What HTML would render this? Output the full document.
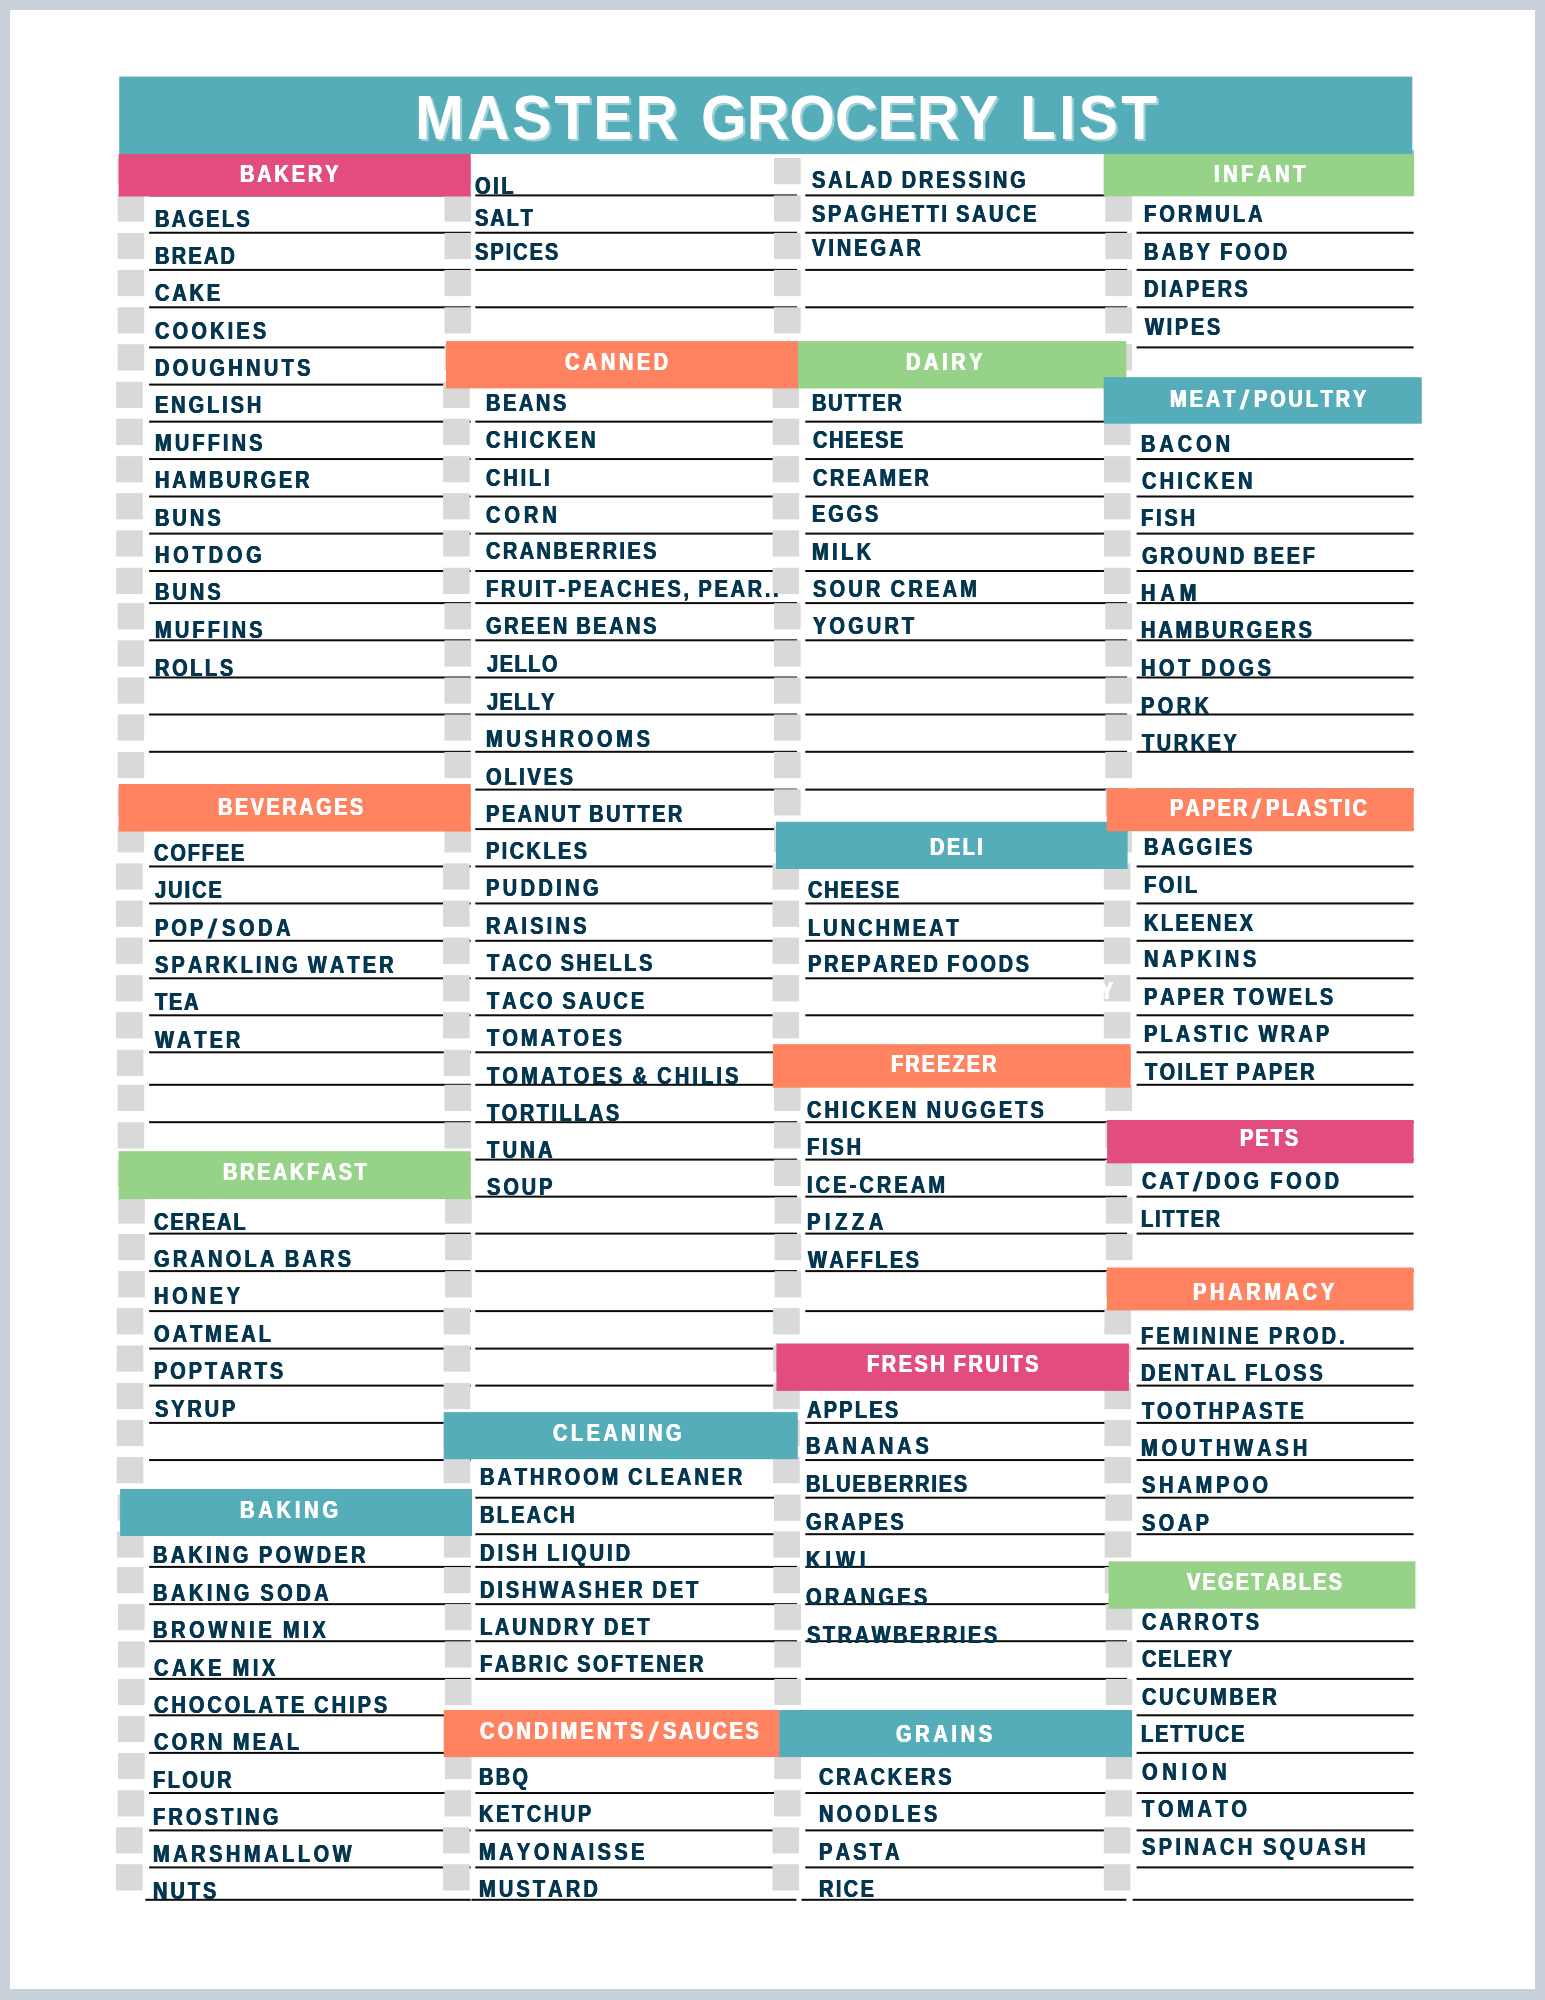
<!DOCTYPE html><html><head><meta charset="utf-8"><title>Master Grocery List</title><style>
html,body{margin:0;padding:0}
body{width:1545px;height:2000px;background:#c8d0da;position:relative;overflow:hidden;font-family:"Liberation Sans",sans-serif;font-weight:bold;font-kerning:none;font-variant-ligatures:none}
#pg{position:absolute;left:10px;top:10px;width:1525px;height:1979px;background:#fff}
#g{position:absolute;left:0;top:0}
#c{position:absolute;left:0;top:0;width:1545px;height:2000px;will-change:transform}
#c span{position:absolute;display:block;white-space:pre}
.i{font-size:23.6px;line-height:23.6px;color:#04374f;word-spacing:-1.8px;text-shadow:0.45px 0 0 currentColor,-0.45px 0 0 currentColor}
.h{font-size:23.6px;line-height:23.6px;color:#fff;word-spacing:-1.8px;text-shadow:0.45px 0 0 currentColor,-0.45px 0 0 currentColor}
.t{font-size:63.0px;line-height:63.0px;color:#fff;text-shadow:2.4px 2.4px 0 #9fd0d7}

</style></head><body><div id="pg"></div>
<svg id="g" width="1545" height="2000" viewBox="0 0 1545 2000">
<g fill="#0b0b0b">
<rect x="149.1" y="194.40" width="321.6" height="2.0"/>
<rect x="149.1" y="231.75" width="321.6" height="2.0"/>
<rect x="149.1" y="268.90" width="321.6" height="2.0"/>
<rect x="149.1" y="306.30" width="321.6" height="2.0"/>
<rect x="149.1" y="346.40" width="321.6" height="2.0"/>
<rect x="149.1" y="383.60" width="321.6" height="2.0"/>
<rect x="149.1" y="420.65" width="321.6" height="2.0"/>
<rect x="149.1" y="458.05" width="321.6" height="2.0"/>
<rect x="149.1" y="495.50" width="321.6" height="2.0"/>
<rect x="149.1" y="532.60" width="321.6" height="2.0"/>
<rect x="149.1" y="570.00" width="321.6" height="2.0"/>
<rect x="149.1" y="602.10" width="321.6" height="2.0"/>
<rect x="149.1" y="639.30" width="321.6" height="2.0"/>
<rect x="149.1" y="676.50" width="321.6" height="2.0"/>
<rect x="149.1" y="713.50" width="321.6" height="2.0"/>
<rect x="149.1" y="750.80" width="321.6" height="2.0"/>
<rect x="149.1" y="788.60" width="321.6" height="2.0"/>
<rect x="149.1" y="828.10" width="321.6" height="2.0"/>
<rect x="149.1" y="865.45" width="321.6" height="2.0"/>
<rect x="149.1" y="902.45" width="321.6" height="2.0"/>
<rect x="149.1" y="939.80" width="321.6" height="2.0"/>
<rect x="149.1" y="977.30" width="321.6" height="2.0"/>
<rect x="149.1" y="1014.30" width="321.6" height="2.0"/>
<rect x="149.1" y="1051.30" width="321.6" height="2.0"/>
<rect x="149.1" y="1083.80" width="321.6" height="2.0"/>
<rect x="149.1" y="1121.20" width="321.6" height="2.0"/>
<rect x="149.1" y="1158.60" width="321.6" height="2.0"/>
<rect x="149.1" y="1195.65" width="321.6" height="2.0"/>
<rect x="149.1" y="1232.60" width="321.6" height="2.0"/>
<rect x="149.1" y="1270.10" width="321.6" height="2.0"/>
<rect x="149.1" y="1310.10" width="321.6" height="2.0"/>
<rect x="149.1" y="1347.60" width="321.6" height="2.0"/>
<rect x="149.1" y="1384.60" width="321.6" height="2.0"/>
<rect x="149.1" y="1421.90" width="321.6" height="2.0"/>
<rect x="149.1" y="1459.05" width="321.6" height="2.0"/>
<rect x="149.1" y="1496.70" width="321.6" height="2.0"/>
<rect x="149.1" y="1533.20" width="321.6" height="2.0"/>
<rect x="149.1" y="1565.90" width="321.6" height="2.0"/>
<rect x="149.1" y="1603.15" width="321.6" height="2.0"/>
<rect x="149.1" y="1640.20" width="321.6" height="2.0"/>
<rect x="149.1" y="1677.90" width="321.6" height="2.0"/>
<rect x="149.1" y="1714.30" width="321.6" height="2.0"/>
<rect x="149.1" y="1751.90" width="321.6" height="2.0"/>
<rect x="149.1" y="1792.00" width="321.6" height="2.0"/>
<rect x="149.1" y="1829.40" width="321.6" height="2.0"/>
<rect x="149.1" y="1866.40" width="321.6" height="2.0"/>
<rect x="475.3" y="194.40" width="321.8" height="2.0"/>
<rect x="475.3" y="231.75" width="321.8" height="2.0"/>
<rect x="475.3" y="268.90" width="321.8" height="2.0"/>
<rect x="475.3" y="306.30" width="321.8" height="2.0"/>
<rect x="475.3" y="346.40" width="321.8" height="2.0"/>
<rect x="475.3" y="383.60" width="321.8" height="2.0"/>
<rect x="475.3" y="420.65" width="321.8" height="2.0"/>
<rect x="475.3" y="458.05" width="321.8" height="2.0"/>
<rect x="475.3" y="495.50" width="321.8" height="2.0"/>
<rect x="475.3" y="532.60" width="321.8" height="2.0"/>
<rect x="475.3" y="570.00" width="321.8" height="2.0"/>
<rect x="475.3" y="602.10" width="321.8" height="2.0"/>
<rect x="475.3" y="639.30" width="321.8" height="2.0"/>
<rect x="475.3" y="676.50" width="321.8" height="2.0"/>
<rect x="475.3" y="713.50" width="321.8" height="2.0"/>
<rect x="475.3" y="750.80" width="321.8" height="2.0"/>
<rect x="475.3" y="788.60" width="321.8" height="2.0"/>
<rect x="475.3" y="828.10" width="321.8" height="2.0"/>
<rect x="475.3" y="865.45" width="321.8" height="2.0"/>
<rect x="475.3" y="902.45" width="321.8" height="2.0"/>
<rect x="475.3" y="939.80" width="321.8" height="2.0"/>
<rect x="475.3" y="977.30" width="321.8" height="2.0"/>
<rect x="475.3" y="1014.30" width="321.8" height="2.0"/>
<rect x="475.3" y="1051.30" width="321.8" height="2.0"/>
<rect x="475.3" y="1083.80" width="321.8" height="2.0"/>
<rect x="475.3" y="1121.20" width="321.8" height="2.0"/>
<rect x="475.3" y="1158.60" width="321.8" height="2.0"/>
<rect x="475.3" y="1195.65" width="321.8" height="2.0"/>
<rect x="475.3" y="1232.60" width="321.8" height="2.0"/>
<rect x="475.3" y="1270.10" width="321.8" height="2.0"/>
<rect x="475.3" y="1310.10" width="321.8" height="2.0"/>
<rect x="475.3" y="1347.60" width="321.8" height="2.0"/>
<rect x="475.3" y="1384.60" width="321.8" height="2.0"/>
<rect x="475.3" y="1421.90" width="321.8" height="2.0"/>
<rect x="475.3" y="1496.70" width="321.8" height="2.0"/>
<rect x="475.3" y="1533.20" width="321.8" height="2.0"/>
<rect x="475.3" y="1565.90" width="321.8" height="2.0"/>
<rect x="475.3" y="1603.15" width="321.8" height="2.0"/>
<rect x="475.3" y="1640.20" width="321.8" height="2.0"/>
<rect x="475.3" y="1677.90" width="321.8" height="2.0"/>
<rect x="475.3" y="1714.30" width="321.8" height="2.0"/>
<rect x="475.3" y="1751.90" width="321.8" height="2.0"/>
<rect x="475.3" y="1792.00" width="321.8" height="2.0"/>
<rect x="475.3" y="1829.40" width="321.8" height="2.0"/>
<rect x="475.3" y="1866.40" width="321.8" height="2.0"/>
<rect x="805.3" y="194.40" width="321.8" height="2.0"/>
<rect x="805.3" y="231.75" width="321.8" height="2.0"/>
<rect x="805.3" y="268.90" width="321.8" height="2.0"/>
<rect x="805.3" y="306.30" width="321.8" height="2.0"/>
<rect x="805.3" y="346.40" width="321.8" height="2.0"/>
<rect x="805.3" y="383.60" width="321.8" height="2.0"/>
<rect x="805.3" y="420.65" width="321.8" height="2.0"/>
<rect x="805.3" y="458.05" width="321.8" height="2.0"/>
<rect x="805.3" y="495.50" width="321.8" height="2.0"/>
<rect x="805.3" y="532.60" width="321.8" height="2.0"/>
<rect x="805.3" y="570.00" width="321.8" height="2.0"/>
<rect x="805.3" y="602.10" width="321.8" height="2.0"/>
<rect x="805.3" y="639.30" width="321.8" height="2.0"/>
<rect x="805.3" y="676.50" width="321.8" height="2.0"/>
<rect x="805.3" y="713.50" width="321.8" height="2.0"/>
<rect x="805.3" y="750.80" width="321.8" height="2.0"/>
<rect x="805.3" y="788.60" width="321.8" height="2.0"/>
<rect x="805.3" y="828.10" width="321.8" height="2.0"/>
<rect x="805.3" y="865.45" width="321.8" height="2.0"/>
<rect x="805.3" y="902.45" width="321.8" height="2.0"/>
<rect x="805.3" y="939.80" width="321.8" height="2.0"/>
<rect x="805.3" y="977.30" width="321.8" height="2.0"/>
<rect x="805.3" y="1014.30" width="321.8" height="2.0"/>
<rect x="805.3" y="1051.30" width="321.8" height="2.0"/>
<rect x="805.3" y="1083.80" width="321.8" height="2.0"/>
<rect x="805.3" y="1121.20" width="321.8" height="2.0"/>
<rect x="805.3" y="1158.60" width="321.8" height="2.0"/>
<rect x="805.3" y="1195.65" width="321.8" height="2.0"/>
<rect x="805.3" y="1232.60" width="321.8" height="2.0"/>
<rect x="805.3" y="1270.10" width="321.8" height="2.0"/>
<rect x="805.3" y="1310.10" width="321.8" height="2.0"/>
<rect x="805.3" y="1347.60" width="321.8" height="2.0"/>
<rect x="805.3" y="1384.60" width="321.8" height="2.0"/>
<rect x="805.3" y="1421.90" width="321.8" height="2.0"/>
<rect x="805.3" y="1459.05" width="321.8" height="2.0"/>
<rect x="805.3" y="1496.70" width="321.8" height="2.0"/>
<rect x="805.3" y="1533.20" width="321.8" height="2.0"/>
<rect x="805.3" y="1565.90" width="321.8" height="2.0"/>
<rect x="805.3" y="1603.15" width="321.8" height="2.0"/>
<rect x="805.3" y="1640.20" width="321.8" height="2.0"/>
<rect x="805.3" y="1677.90" width="321.8" height="2.0"/>
<rect x="805.3" y="1714.30" width="321.8" height="2.0"/>
<rect x="805.3" y="1751.90" width="321.8" height="2.0"/>
<rect x="805.3" y="1792.00" width="321.8" height="2.0"/>
<rect x="805.3" y="1829.40" width="321.8" height="2.0"/>
<rect x="805.3" y="1866.40" width="321.8" height="2.0"/>
<rect x="1136.6" y="231.75" width="277.0" height="2.0"/>
<rect x="1136.6" y="268.90" width="277.0" height="2.0"/>
<rect x="1136.6" y="306.30" width="277.0" height="2.0"/>
<rect x="1136.6" y="346.40" width="277.0" height="2.0"/>
<rect x="1136.6" y="383.60" width="277.0" height="2.0"/>
<rect x="1136.6" y="420.65" width="277.0" height="2.0"/>
<rect x="1136.6" y="458.05" width="277.0" height="2.0"/>
<rect x="1136.6" y="495.50" width="277.0" height="2.0"/>
<rect x="1136.6" y="532.60" width="277.0" height="2.0"/>
<rect x="1136.6" y="570.00" width="277.0" height="2.0"/>
<rect x="1136.6" y="602.10" width="277.0" height="2.0"/>
<rect x="1136.6" y="639.30" width="277.0" height="2.0"/>
<rect x="1136.6" y="676.50" width="277.0" height="2.0"/>
<rect x="1136.6" y="713.50" width="277.0" height="2.0"/>
<rect x="1136.6" y="750.80" width="277.0" height="2.0"/>
<rect x="1136.6" y="788.60" width="277.0" height="2.0"/>
<rect x="1136.6" y="828.10" width="277.0" height="2.0"/>
<rect x="1136.6" y="865.45" width="277.0" height="2.0"/>
<rect x="1136.6" y="902.45" width="277.0" height="2.0"/>
<rect x="1136.6" y="939.80" width="277.0" height="2.0"/>
<rect x="1136.6" y="977.30" width="277.0" height="2.0"/>
<rect x="1136.6" y="1014.30" width="277.0" height="2.0"/>
<rect x="1136.6" y="1051.30" width="277.0" height="2.0"/>
<rect x="1136.6" y="1083.80" width="277.0" height="2.0"/>
<rect x="1136.6" y="1121.20" width="277.0" height="2.0"/>
<rect x="1136.6" y="1158.60" width="277.0" height="2.0"/>
<rect x="1136.6" y="1195.65" width="277.0" height="2.0"/>
<rect x="1136.6" y="1232.60" width="277.0" height="2.0"/>
<rect x="1136.6" y="1270.10" width="277.0" height="2.0"/>
<rect x="1136.6" y="1347.60" width="277.0" height="2.0"/>
<rect x="1136.6" y="1384.60" width="277.0" height="2.0"/>
<rect x="1136.6" y="1421.90" width="277.0" height="2.0"/>
<rect x="1136.6" y="1459.05" width="277.0" height="2.0"/>
<rect x="1136.6" y="1496.70" width="277.0" height="2.0"/>
<rect x="1136.6" y="1533.20" width="277.0" height="2.0"/>
<rect x="1136.6" y="1565.90" width="277.0" height="2.0"/>
<rect x="1136.6" y="1603.15" width="277.0" height="2.0"/>
<rect x="1136.6" y="1640.20" width="277.0" height="2.0"/>
<rect x="1136.6" y="1677.90" width="277.0" height="2.0"/>
<rect x="1136.6" y="1714.30" width="277.0" height="2.0"/>
<rect x="1136.6" y="1751.90" width="277.0" height="2.0"/>
<rect x="1136.6" y="1792.00" width="277.0" height="2.0"/>
<rect x="1136.6" y="1829.40" width="277.0" height="2.0"/>
<rect x="1136.6" y="1866.40" width="277.0" height="2.0"/>
<rect x="145.3" y="1898.80" width="325.4" height="2.0"/>
<rect x="471.5" y="1898.80" width="324.9" height="2.0"/>
<rect x="801.5" y="1898.80" width="324.8" height="2.0"/>
<rect x="1132.7" y="1898.80" width="280.9" height="2.0"/>
</g><g fill="#d9d9d9">
<rect x="117.6" y="158.00" width="26.6" height="26.2"/>
<rect x="117.6" y="195.45" width="26.6" height="26.2"/>
<rect x="117.6" y="232.95" width="26.6" height="26.2"/>
<rect x="117.6" y="269.95" width="26.6" height="26.2"/>
<rect x="117.6" y="307.25" width="26.6" height="26.2"/>
<rect x="117.6" y="344.25" width="26.6" height="26.2"/>
<rect x="116.2" y="381.75" width="26.6" height="26.2"/>
<rect x="116.2" y="418.75" width="26.6" height="26.2"/>
<rect x="116.2" y="456.15" width="26.6" height="26.2"/>
<rect x="116.2" y="493.15" width="26.6" height="26.2"/>
<rect x="116.2" y="530.35" width="26.6" height="26.2"/>
<rect x="116.2" y="567.75" width="26.6" height="26.2"/>
<rect x="117.6" y="603.15" width="26.6" height="26.2"/>
<rect x="117.6" y="640.35" width="26.6" height="26.2"/>
<rect x="117.6" y="677.45" width="26.6" height="26.2"/>
<rect x="117.6" y="714.45" width="26.6" height="26.2"/>
<rect x="117.6" y="751.95" width="26.6" height="26.2"/>
<rect x="117.6" y="789.25" width="26.6" height="26.2"/>
<rect x="117.6" y="826.25" width="26.6" height="26.2"/>
<rect x="116.1" y="863.35" width="26.6" height="26.2"/>
<rect x="116.1" y="900.55" width="26.6" height="26.2"/>
<rect x="116.1" y="937.65" width="26.6" height="26.2"/>
<rect x="116.1" y="975.15" width="26.6" height="26.2"/>
<rect x="116.1" y="1012.15" width="26.6" height="26.2"/>
<rect x="116.8" y="1049.75" width="26.6" height="26.2"/>
<rect x="117.6" y="1084.75" width="26.6" height="26.2"/>
<rect x="117.6" y="1122.25" width="26.6" height="26.2"/>
<rect x="117.6" y="1159.75" width="26.6" height="26.2"/>
<rect x="118.2" y="1197.35" width="26.6" height="26.2"/>
<rect x="118.2" y="1234.05" width="26.6" height="26.2"/>
<rect x="118.2" y="1271.15" width="26.6" height="26.2"/>
<rect x="116.7" y="1308.15" width="26.6" height="26.2"/>
<rect x="116.7" y="1345.45" width="26.6" height="26.2"/>
<rect x="116.7" y="1382.95" width="26.6" height="26.2"/>
<rect x="116.7" y="1419.95" width="26.6" height="26.2"/>
<rect x="116.7" y="1457.05" width="26.6" height="26.2"/>
<rect x="117.6" y="1494.55" width="26.6" height="26.2"/>
<rect x="117.0" y="1531.35" width="26.6" height="26.2"/>
<rect x="117.0" y="1567.05" width="26.6" height="26.2"/>
<rect x="118.0" y="1604.05" width="26.6" height="26.2"/>
<rect x="118.0" y="1641.35" width="26.6" height="26.2"/>
<rect x="118.0" y="1678.95" width="26.6" height="26.2"/>
<rect x="118.0" y="1715.95" width="26.6" height="26.2"/>
<rect x="118.0" y="1752.95" width="26.6" height="26.2"/>
<rect x="117.6" y="1790.25" width="26.6" height="26.2"/>
<rect x="116.1" y="1827.25" width="26.6" height="26.2"/>
<rect x="116.1" y="1864.25" width="26.6" height="26.2"/>
<rect x="444.5" y="158.00" width="26.6" height="26.2"/>
<rect x="444.5" y="195.45" width="26.6" height="26.2"/>
<rect x="444.5" y="232.95" width="26.6" height="26.2"/>
<rect x="444.5" y="269.95" width="26.6" height="26.2"/>
<rect x="444.5" y="307.25" width="26.6" height="26.2"/>
<rect x="444.5" y="344.25" width="26.6" height="26.2"/>
<rect x="443.1" y="381.75" width="26.6" height="26.2"/>
<rect x="443.1" y="418.75" width="26.6" height="26.2"/>
<rect x="443.1" y="456.15" width="26.6" height="26.2"/>
<rect x="443.1" y="493.15" width="26.6" height="26.2"/>
<rect x="443.1" y="530.35" width="26.6" height="26.2"/>
<rect x="443.1" y="567.75" width="26.6" height="26.2"/>
<rect x="444.5" y="603.15" width="26.6" height="26.2"/>
<rect x="444.5" y="640.35" width="26.6" height="26.2"/>
<rect x="444.5" y="677.45" width="26.6" height="26.2"/>
<rect x="444.5" y="714.45" width="26.6" height="26.2"/>
<rect x="444.5" y="751.95" width="26.6" height="26.2"/>
<rect x="444.5" y="789.25" width="26.6" height="26.2"/>
<rect x="444.5" y="826.25" width="26.6" height="26.2"/>
<rect x="443.0" y="863.35" width="26.6" height="26.2"/>
<rect x="443.0" y="900.55" width="26.6" height="26.2"/>
<rect x="443.0" y="937.65" width="26.6" height="26.2"/>
<rect x="443.0" y="975.15" width="26.6" height="26.2"/>
<rect x="443.0" y="1012.15" width="26.6" height="26.2"/>
<rect x="443.7" y="1049.75" width="26.6" height="26.2"/>
<rect x="444.5" y="1084.75" width="26.6" height="26.2"/>
<rect x="444.5" y="1122.25" width="26.6" height="26.2"/>
<rect x="444.5" y="1159.75" width="26.6" height="26.2"/>
<rect x="445.1" y="1197.35" width="26.6" height="26.2"/>
<rect x="445.1" y="1234.05" width="26.6" height="26.2"/>
<rect x="445.1" y="1271.15" width="26.6" height="26.2"/>
<rect x="443.6" y="1308.15" width="26.6" height="26.2"/>
<rect x="443.6" y="1345.45" width="26.6" height="26.2"/>
<rect x="443.6" y="1382.95" width="26.6" height="26.2"/>
<rect x="443.6" y="1419.95" width="26.6" height="26.2"/>
<rect x="443.6" y="1457.05" width="26.6" height="26.2"/>
<rect x="444.5" y="1494.55" width="26.6" height="26.2"/>
<rect x="443.9" y="1531.35" width="26.6" height="26.2"/>
<rect x="443.9" y="1567.05" width="26.6" height="26.2"/>
<rect x="444.9" y="1604.05" width="26.6" height="26.2"/>
<rect x="444.9" y="1641.35" width="26.6" height="26.2"/>
<rect x="444.9" y="1678.95" width="26.6" height="26.2"/>
<rect x="444.9" y="1715.95" width="26.6" height="26.2"/>
<rect x="444.9" y="1752.95" width="26.6" height="26.2"/>
<rect x="444.5" y="1790.25" width="26.6" height="26.2"/>
<rect x="443.0" y="1827.25" width="26.6" height="26.2"/>
<rect x="443.0" y="1864.25" width="26.6" height="26.2"/>
<rect x="774.0" y="158.00" width="26.6" height="26.2"/>
<rect x="774.0" y="195.45" width="26.6" height="26.2"/>
<rect x="774.0" y="232.95" width="26.6" height="26.2"/>
<rect x="774.0" y="269.95" width="26.6" height="26.2"/>
<rect x="774.0" y="307.25" width="26.6" height="26.2"/>
<rect x="774.0" y="344.25" width="26.6" height="26.2"/>
<rect x="772.6" y="381.75" width="26.6" height="26.2"/>
<rect x="772.6" y="418.75" width="26.6" height="26.2"/>
<rect x="772.6" y="456.15" width="26.6" height="26.2"/>
<rect x="772.6" y="493.15" width="26.6" height="26.2"/>
<rect x="772.6" y="530.35" width="26.6" height="26.2"/>
<rect x="772.6" y="567.75" width="26.6" height="26.2"/>
<rect x="774.0" y="603.15" width="26.6" height="26.2"/>
<rect x="774.0" y="640.35" width="26.6" height="26.2"/>
<rect x="774.0" y="677.45" width="26.6" height="26.2"/>
<rect x="774.0" y="714.45" width="26.6" height="26.2"/>
<rect x="774.0" y="751.95" width="26.6" height="26.2"/>
<rect x="774.0" y="789.25" width="26.6" height="26.2"/>
<rect x="774.0" y="826.25" width="26.6" height="26.2"/>
<rect x="772.5" y="863.35" width="26.6" height="26.2"/>
<rect x="772.5" y="900.55" width="26.6" height="26.2"/>
<rect x="772.5" y="937.65" width="26.6" height="26.2"/>
<rect x="772.5" y="975.15" width="26.6" height="26.2"/>
<rect x="772.5" y="1012.15" width="26.6" height="26.2"/>
<rect x="773.2" y="1049.75" width="26.6" height="26.2"/>
<rect x="774.0" y="1084.75" width="26.6" height="26.2"/>
<rect x="774.0" y="1122.25" width="26.6" height="26.2"/>
<rect x="774.0" y="1159.75" width="26.6" height="26.2"/>
<rect x="774.6" y="1197.35" width="26.6" height="26.2"/>
<rect x="774.6" y="1234.05" width="26.6" height="26.2"/>
<rect x="774.6" y="1271.15" width="26.6" height="26.2"/>
<rect x="773.1" y="1308.15" width="26.6" height="26.2"/>
<rect x="773.1" y="1345.45" width="26.6" height="26.2"/>
<rect x="773.1" y="1382.95" width="26.6" height="26.2"/>
<rect x="773.1" y="1419.95" width="26.6" height="26.2"/>
<rect x="773.1" y="1457.05" width="26.6" height="26.2"/>
<rect x="774.0" y="1494.55" width="26.6" height="26.2"/>
<rect x="773.4" y="1531.35" width="26.6" height="26.2"/>
<rect x="773.4" y="1567.05" width="26.6" height="26.2"/>
<rect x="774.4" y="1604.05" width="26.6" height="26.2"/>
<rect x="774.4" y="1641.35" width="26.6" height="26.2"/>
<rect x="774.4" y="1678.95" width="26.6" height="26.2"/>
<rect x="774.4" y="1715.95" width="26.6" height="26.2"/>
<rect x="774.4" y="1752.95" width="26.6" height="26.2"/>
<rect x="774.0" y="1790.25" width="26.6" height="26.2"/>
<rect x="772.5" y="1827.25" width="26.6" height="26.2"/>
<rect x="772.5" y="1864.25" width="26.6" height="26.2"/>
<rect x="1105.3" y="158.00" width="26.6" height="26.2"/>
<rect x="1105.3" y="195.45" width="26.6" height="26.2"/>
<rect x="1105.3" y="232.95" width="26.6" height="26.2"/>
<rect x="1105.3" y="269.95" width="26.6" height="26.2"/>
<rect x="1105.3" y="307.25" width="26.6" height="26.2"/>
<rect x="1105.3" y="344.25" width="26.6" height="26.2"/>
<rect x="1103.9" y="381.75" width="26.6" height="26.2"/>
<rect x="1103.9" y="418.75" width="26.6" height="26.2"/>
<rect x="1103.9" y="456.15" width="26.6" height="26.2"/>
<rect x="1103.9" y="493.15" width="26.6" height="26.2"/>
<rect x="1103.9" y="530.35" width="26.6" height="26.2"/>
<rect x="1103.9" y="567.75" width="26.6" height="26.2"/>
<rect x="1105.3" y="603.15" width="26.6" height="26.2"/>
<rect x="1105.3" y="640.35" width="26.6" height="26.2"/>
<rect x="1105.3" y="677.45" width="26.6" height="26.2"/>
<rect x="1105.3" y="714.45" width="26.6" height="26.2"/>
<rect x="1105.3" y="751.95" width="26.6" height="26.2"/>
<rect x="1105.3" y="789.25" width="26.6" height="26.2"/>
<rect x="1105.3" y="826.25" width="26.6" height="26.2"/>
<rect x="1103.8" y="863.35" width="26.6" height="26.2"/>
<rect x="1103.8" y="900.55" width="26.6" height="26.2"/>
<rect x="1103.8" y="937.65" width="26.6" height="26.2"/>
<rect x="1103.8" y="975.15" width="26.6" height="26.2"/>
<rect x="1103.8" y="1012.15" width="26.6" height="26.2"/>
<rect x="1104.5" y="1049.75" width="26.6" height="26.2"/>
<rect x="1105.3" y="1084.75" width="26.6" height="26.2"/>
<rect x="1105.3" y="1122.25" width="26.6" height="26.2"/>
<rect x="1105.3" y="1159.75" width="26.6" height="26.2"/>
<rect x="1105.9" y="1197.35" width="26.6" height="26.2"/>
<rect x="1105.9" y="1234.05" width="26.6" height="26.2"/>
<rect x="1105.9" y="1271.15" width="26.6" height="26.2"/>
<rect x="1104.4" y="1308.15" width="26.6" height="26.2"/>
<rect x="1104.4" y="1345.45" width="26.6" height="26.2"/>
<rect x="1104.4" y="1382.95" width="26.6" height="26.2"/>
<rect x="1104.4" y="1419.95" width="26.6" height="26.2"/>
<rect x="1104.4" y="1457.05" width="26.6" height="26.2"/>
<rect x="1105.3" y="1494.55" width="26.6" height="26.2"/>
<rect x="1104.7" y="1531.35" width="26.6" height="26.2"/>
<rect x="1104.7" y="1567.05" width="26.6" height="26.2"/>
<rect x="1105.7" y="1604.05" width="26.6" height="26.2"/>
<rect x="1105.7" y="1641.35" width="26.6" height="26.2"/>
<rect x="1105.7" y="1678.95" width="26.6" height="26.2"/>
<rect x="1105.7" y="1715.95" width="26.6" height="26.2"/>
<rect x="1105.7" y="1752.95" width="26.6" height="26.2"/>
<rect x="1105.3" y="1790.25" width="26.6" height="26.2"/>
<rect x="1103.8" y="1827.25" width="26.6" height="26.2"/>
<rect x="1103.8" y="1864.25" width="26.6" height="26.2"/>
</g>
<rect x="1103.7" y="149.8" width="310.4" height="46.5" fill="#96d287"/>
<rect x="118.6" y="154.0" width="352.1" height="42.5" fill="#e34d7e"/>
<rect x="118.6" y="784.0" width="352.1" height="47.6" fill="#ff8361"/>
<rect x="118.6" y="1151.2" width="352.1" height="47.9" fill="#96d287"/>
<rect x="120.1" y="1489.0" width="351.9" height="47.0" fill="#55adb9"/>
<rect x="446.0" y="341.1" width="352.2" height="47.3" fill="#ff8361"/>
<rect x="443.7" y="1412.1" width="354.1" height="47.1" fill="#55adb9"/>
<rect x="443.7" y="1710.0" width="336.0" height="47.1" fill="#ff8361"/>
<rect x="798.0" y="341.1" width="328.3" height="47.3" fill="#96d287"/>
<rect x="776.0" y="821.8" width="351.6" height="47.2" fill="#55adb9"/>
<rect x="772.9" y="1044.2" width="357.8" height="43.5" fill="#ff8361"/>
<rect x="776.4" y="1343.5" width="352.5" height="47.4" fill="#e34d7e"/>
<rect x="779.3" y="1710.0" width="352.7" height="47.1" fill="#55adb9"/>
<rect x="1103.7" y="377.2" width="318.1" height="46.5" fill="#55adb9"/>
<rect x="1106.8" y="788.3" width="306.9" height="42.9" fill="#ff8361"/>
<rect x="1107.1" y="1120.0" width="306.5" height="43.3" fill="#e34d7e"/>
<rect x="1106.8" y="1267.5" width="306.8" height="42.9" fill="#ff8361"/>
<rect x="1108.6" y="1561.4" width="306.8" height="47.3" fill="#96d287"/>
<rect x="119.2" y="76.6" width="1293.1" height="77.5" fill="#55adb9"/>
</svg><div id="c">
<span class="h" style="left:1213.54px;top:163px;letter-spacing:4.200px;transform:scaleX(0.85);transform-origin:0 0">INFANT</span>
<span class="h" style="left:239.84px;top:163px;letter-spacing:3.246px;transform:scaleX(0.85);transform-origin:0 0">BAKERY</span>
<span class="h" style="left:217.84px;top:796px;letter-spacing:2.838px;transform:scaleX(0.85);transform-origin:0 0">BEVERAGES</span>
<span class="h" style="left:222.74px;top:1161px;letter-spacing:2.969px;transform:scaleX(0.85);transform-origin:0 0">BREAKFAST</span>
<span class="h" style="left:240.34px;top:1499px;letter-spacing:4.470px;transform:scaleX(0.85);transform-origin:0 0">BAKING</span>
<span class="h" style="left:564.86px;top:351px;letter-spacing:4.091px;transform:scaleX(0.85);transform-origin:0 0">CANNED</span>
<span class="h" style="left:552.76px;top:1422px;letter-spacing:4.008px;transform:scaleX(0.85);transform-origin:0 0">CLEANING</span>
<span class="h" style="left:480.26px;top:1720px;letter-spacing:3.738px;transform:scaleX(0.85);transform-origin:0 0">CONDIMENTS</span>
<span class="h" style="left:662.70px;top:1720px;letter-spacing:2.846px;transform:scaleX(0.85);transform-origin:0 0">SAUCES</span>
<span class="h" style="left:905.54px;top:351px;letter-spacing:4.143px;transform:scaleX(0.85);transform-origin:0 0">DAIRY</span>
<span class="h" style="left:929.64px;top:836px;letter-spacing:2.794px;transform:scaleX(0.85);transform-origin:0 0">DELI</span>
<span class="h" style="left:891.24px;top:1053px;letter-spacing:2.347px;transform:scaleX(0.85);transform-origin:0 0">FREEZER</span>
<span class="h" style="left:866.64px;top:1353px;letter-spacing:2.887px;transform:scaleX(0.85);transform-origin:0 0">FRESH FRUITS</span>
<span class="h" style="left:896.16px;top:1723px;letter-spacing:4.265px;transform:scaleX(0.85);transform-origin:0 0">GRAINS</span>
<span class="h" style="left:1170.14px;top:388px;letter-spacing:3.397px;transform:scaleX(0.85);transform-origin:0 0">MEAT</span>
<span class="h" style="left:1253.94px;top:388px;letter-spacing:3.227px;transform:scaleX(0.85);transform-origin:0 0">POULTRY</span>
<span class="h" style="left:1170.14px;top:797px;letter-spacing:2.463px;transform:scaleX(0.85);transform-origin:0 0">PAPER</span>
<span class="h" style="left:1265.64px;top:797px;letter-spacing:3.002px;transform:scaleX(0.85);transform-origin:0 0">PLASTIC</span>
<span class="h" style="left:1239.94px;top:1127px;letter-spacing:2.301px;transform:scaleX(0.85);transform-origin:0 0">PETS</span>
<span class="h" style="left:1192.84px;top:1281px;letter-spacing:4.252px;transform:scaleX(0.85);transform-origin:0 0">PHARMACY</span>
<span class="h" style="left:1186.75px;top:1571px;letter-spacing:2.480px;transform:scaleX(0.85);transform-origin:0 0">VEGETABLES</span>
<span class="t" style="left:414.88px;top:86px;letter-spacing:3.321px;transform:scaleX(0.93);transform-origin:0 0">MASTER</span>
<span class="t" style="left:700.50px;top:86px;letter-spacing:0.216px;transform:scaleX(0.93);transform-origin:0 0">GROCERY</span>
<span class="t" style="left:1020.18px;top:86px;letter-spacing:3.625px;transform:scaleX(0.93);transform-origin:0 0">LIST</span>
<span class="i" style="left:154.64px;top:208px;letter-spacing:2.605px;transform:scaleX(0.85);transform-origin:0 0">BAGELS</span>
<span class="i" style="left:154.64px;top:245px;letter-spacing:2.527px;transform:scaleX(0.85);transform-origin:0 0">BREAD</span>
<span class="i" style="left:155.16px;top:282px;letter-spacing:3.255px;transform:scaleX(0.85);transform-origin:0 0">CAKE</span>
<span class="i" style="left:155.16px;top:320px;letter-spacing:3.672px;transform:scaleX(0.85);transform-origin:0 0">COOKIES</span>
<span class="i" style="left:154.64px;top:357px;letter-spacing:3.851px;transform:scaleX(0.85);transform-origin:0 0">DOUGHNUTS</span>
<span class="i" style="left:154.64px;top:394px;letter-spacing:3.366px;transform:scaleX(0.85);transform-origin:0 0">ENGLISH</span>
<span class="i" style="left:154.64px;top:432px;letter-spacing:3.611px;transform:scaleX(0.85);transform-origin:0 0">MUFFINS</span>
<span class="i" style="left:154.64px;top:469px;letter-spacing:3.232px;transform:scaleX(0.85);transform-origin:0 0">HAMBURGER</span>
<span class="i" style="left:154.64px;top:507px;letter-spacing:3.459px;transform:scaleX(0.85);transform-origin:0 0">BUNS</span>
<span class="i" style="left:154.64px;top:544px;letter-spacing:4.396px;transform:scaleX(0.85);transform-origin:0 0">HOTDOG</span>
<span class="i" style="left:154.64px;top:581px;letter-spacing:3.459px;transform:scaleX(0.85);transform-origin:0 0">BUNS</span>
<span class="i" style="left:154.64px;top:619px;letter-spacing:3.611px;transform:scaleX(0.85);transform-origin:0 0">MUFFINS</span>
<span class="i" style="left:154.64px;top:657px;letter-spacing:2.995px;transform:scaleX(0.85);transform-origin:0 0">ROLLS</span>
<span class="i" style="left:154.46px;top:842px;letter-spacing:2.114px;transform:scaleX(0.85);transform-origin:0 0">COFFEE</span>
<span class="i" style="left:154.98px;top:879px;letter-spacing:2.276px;transform:scaleX(0.85);transform-origin:0 0">JUICE</span>
<span class="i" style="left:155.24px;top:917px;letter-spacing:3.411px;transform:scaleX(0.85);transform-origin:0 0">POP</span>
<span class="i" style="left:221.60px;top:917px;letter-spacing:4.151px;transform:scaleX(0.85);transform-origin:0 0">SODA</span>
<span class="i" style="left:154.70px;top:954px;letter-spacing:3.614px;transform:scaleX(0.85);transform-origin:0 0">SPARKLING WATER</span>
<span class="i" style="left:155.06px;top:991px;letter-spacing:1.982px;transform:scaleX(0.85);transform-origin:0 0">TEA</span>
<span class="i" style="left:155.26px;top:1029px;letter-spacing:3.478px;transform:scaleX(0.85);transform-origin:0 0">WATER</span>
<span class="i" style="left:154.46px;top:1211px;letter-spacing:2.142px;transform:scaleX(0.85);transform-origin:0 0">CEREAL</span>
<span class="i" style="left:154.46px;top:1248px;letter-spacing:3.727px;transform:scaleX(0.85);transform-origin:0 0">GRANOLA BARS</span>
<span class="i" style="left:153.94px;top:1285px;letter-spacing:4.342px;transform:scaleX(0.85);transform-origin:0 0">HONEY</span>
<span class="i" style="left:154.46px;top:1323px;letter-spacing:3.490px;transform:scaleX(0.85);transform-origin:0 0">OATMEAL</span>
<span class="i" style="left:153.94px;top:1360px;letter-spacing:3.368px;transform:scaleX(0.85);transform-origin:0 0">POPTARTS</span>
<span class="i" style="left:154.70px;top:1398px;letter-spacing:3.290px;transform:scaleX(0.85);transform-origin:0 0">SYRUP</span>
<span class="i" style="left:153.04px;top:1544px;letter-spacing:3.838px;transform:scaleX(0.85);transform-origin:0 0">BAKING POWDER</span>
<span class="i" style="left:153.04px;top:1582px;letter-spacing:4.069px;transform:scaleX(0.85);transform-origin:0 0">BAKING SODA</span>
<span class="i" style="left:153.04px;top:1619px;letter-spacing:4.258px;transform:scaleX(0.85);transform-origin:0 0">BROWNIE MIX</span>
<span class="i" style="left:153.56px;top:1657px;letter-spacing:4.166px;transform:scaleX(0.85);transform-origin:0 0">CAKE MIX</span>
<span class="i" style="left:153.56px;top:1694px;letter-spacing:3.433px;transform:scaleX(0.85);transform-origin:0 0">CHOCOLATE CHIPS</span>
<span class="i" style="left:153.56px;top:1731px;letter-spacing:3.697px;transform:scaleX(0.85);transform-origin:0 0">CORN MEAL</span>
<span class="i" style="left:153.04px;top:1769px;letter-spacing:2.796px;transform:scaleX(0.85);transform-origin:0 0">FLOUR</span>
<span class="i" style="left:153.04px;top:1806px;letter-spacing:3.661px;transform:scaleX(0.85);transform-origin:0 0">FROSTING</span>
<span class="i" style="left:153.04px;top:1843px;letter-spacing:4.095px;transform:scaleX(0.85);transform-origin:0 0">MARSHMALLOW</span>
<span class="i" style="left:153.04px;top:1880px;letter-spacing:3.433px;transform:scaleX(0.85);transform-origin:0 0">NUTS</span>
<span class="i" style="left:475.21px;top:175px;letter-spacing:3.056px;transform:scaleX(0.85);transform-origin:0 0">OIL</span>
<span class="i" style="left:475.45px;top:207px;letter-spacing:2.198px;transform:scaleX(0.85);transform-origin:0 0">SALT</span>
<span class="i" style="left:475.45px;top:241px;letter-spacing:2.298px;transform:scaleX(0.85);transform-origin:0 0">SPICES</span>
<span class="i" style="left:485.94px;top:392px;letter-spacing:2.983px;transform:scaleX(0.85);transform-origin:0 0">BEANS</span>
<span class="i" style="left:486.46px;top:429px;letter-spacing:3.593px;transform:scaleX(0.85);transform-origin:0 0">CHICKEN</span>
<span class="i" style="left:486.46px;top:467px;letter-spacing:3.302px;transform:scaleX(0.85);transform-origin:0 0">CHILI</span>
<span class="i" style="left:486.46px;top:504px;letter-spacing:4.606px;transform:scaleX(0.85);transform-origin:0 0">CORN</span>
<span class="i" style="left:486.46px;top:540px;letter-spacing:2.744px;transform:scaleX(0.85);transform-origin:0 0">CRANBERRIES</span>
<span class="i" style="left:485.94px;top:578px;letter-spacing:3.150px;transform:scaleX(0.85);transform-origin:0 0">FRUIT-PEACHES, PEAR..</span>
<span class="i" style="left:486.46px;top:615px;letter-spacing:2.923px;transform:scaleX(0.85);transform-origin:0 0">GREEN BEANS</span>
<span class="i" style="left:486.98px;top:653px;letter-spacing:1.745px;transform:scaleX(0.85);transform-origin:0 0">JELLO</span>
<span class="i" style="left:486.98px;top:691px;letter-spacing:1.482px;transform:scaleX(0.85);transform-origin:0 0">JELLY</span>
<span class="i" style="left:485.94px;top:728px;letter-spacing:4.281px;transform:scaleX(0.85);transform-origin:0 0">MUSHROOMS</span>
<span class="i" style="left:486.46px;top:766px;letter-spacing:3.170px;transform:scaleX(0.85);transform-origin:0 0">OLIVES</span>
<span class="i" style="left:485.94px;top:803px;letter-spacing:2.806px;transform:scaleX(0.85);transform-origin:0 0">PEANUT BUTTER</span>
<span class="i" style="left:485.94px;top:840px;letter-spacing:2.769px;transform:scaleX(0.85);transform-origin:0 0">PICKLES</span>
<span class="i" style="left:485.94px;top:877px;letter-spacing:3.945px;transform:scaleX(0.85);transform-origin:0 0">PUDDING</span>
<span class="i" style="left:485.94px;top:915px;letter-spacing:3.764px;transform:scaleX(0.85);transform-origin:0 0">RAISINS</span>
<span class="i" style="left:487.06px;top:952px;letter-spacing:2.993px;transform:scaleX(0.85);transform-origin:0 0">TACO SHELLS</span>
<span class="i" style="left:487.06px;top:990px;letter-spacing:3.418px;transform:scaleX(0.85);transform-origin:0 0">TACO SAUCE</span>
<span class="i" style="left:487.06px;top:1027px;letter-spacing:3.575px;transform:scaleX(0.85);transform-origin:0 0">TOMATOES</span>
<span class="i" style="left:487.06px;top:1065px;letter-spacing:3.636px;transform:scaleX(0.85);transform-origin:0 0">TOMATOES &amp; CHILIS</span>
<span class="i" style="left:487.06px;top:1102px;letter-spacing:2.897px;transform:scaleX(0.85);transform-origin:0 0">TORTILLAS</span>
<span class="i" style="left:487.06px;top:1139px;letter-spacing:3.834px;transform:scaleX(0.85);transform-origin:0 0">TUNA</span>
<span class="i" style="left:486.70px;top:1176px;letter-spacing:3.392px;transform:scaleX(0.85);transform-origin:0 0">SOUP</span>
<span class="i" style="left:480.34px;top:1466px;letter-spacing:3.401px;transform:scaleX(0.85);transform-origin:0 0">BATHROOM CLEANER</span>
<span class="i" style="left:480.34px;top:1504px;letter-spacing:2.600px;transform:scaleX(0.85);transform-origin:0 0">BLEACH</span>
<span class="i" style="left:480.34px;top:1542px;letter-spacing:3.561px;transform:scaleX(0.85);transform-origin:0 0">DISH LIQUID</span>
<span class="i" style="left:480.34px;top:1579px;letter-spacing:3.353px;transform:scaleX(0.85);transform-origin:0 0">DISHWASHER DET</span>
<span class="i" style="left:480.34px;top:1616px;letter-spacing:3.219px;transform:scaleX(0.85);transform-origin:0 0">LAUNDRY DET</span>
<span class="i" style="left:480.34px;top:1653px;letter-spacing:2.903px;transform:scaleX(0.85);transform-origin:0 0">FABRIC SOFTENER</span>
<span class="i" style="left:479.34px;top:1766px;letter-spacing:2.613px;transform:scaleX(0.85);transform-origin:0 0">BBQ</span>
<span class="i" style="left:479.34px;top:1803px;letter-spacing:3.001px;transform:scaleX(0.85);transform-origin:0 0">KETCHUP</span>
<span class="i" style="left:479.34px;top:1841px;letter-spacing:3.999px;transform:scaleX(0.85);transform-origin:0 0">MAYONAISSE</span>
<span class="i" style="left:479.34px;top:1878px;letter-spacing:3.653px;transform:scaleX(0.85);transform-origin:0 0">MUSTARD</span>
<span class="i" style="left:811.95px;top:169px;letter-spacing:3.248px;transform:scaleX(0.85);transform-origin:0 0">SALAD DRESSING</span>
<span class="i" style="left:811.95px;top:203px;letter-spacing:2.974px;transform:scaleX(0.85);transform-origin:0 0">SPAGHETTI SAUCE</span>
<span class="i" style="left:812.40px;top:237px;letter-spacing:3.439px;transform:scaleX(0.85);transform-origin:0 0">VINEGAR</span>
<span class="i" style="left:811.99px;top:392px;letter-spacing:2.022px;transform:scaleX(0.85);transform-origin:0 0">BUTTER</span>
<span class="i" style="left:812.51px;top:429px;letter-spacing:1.858px;transform:scaleX(0.85);transform-origin:0 0">CHEESE</span>
<span class="i" style="left:812.51px;top:467px;letter-spacing:2.824px;transform:scaleX(0.85);transform-origin:0 0">CREAMER</span>
<span class="i" style="left:811.99px;top:503px;letter-spacing:3.272px;transform:scaleX(0.85);transform-origin:0 0">EGGS</span>
<span class="i" style="left:811.99px;top:541px;letter-spacing:3.996px;transform:scaleX(0.85);transform-origin:0 0">MILK</span>
<span class="i" style="left:812.75px;top:578px;letter-spacing:3.707px;transform:scaleX(0.85);transform-origin:0 0">SOUR CREAM</span>
<span class="i" style="left:812.99px;top:615px;letter-spacing:3.631px;transform:scaleX(0.85);transform-origin:0 0">YOGURT</span>
<span class="i" style="left:808.46px;top:879px;letter-spacing:2.058px;transform:scaleX(0.85);transform-origin:0 0">CHEESE</span>
<span class="i" style="left:807.94px;top:917px;letter-spacing:3.494px;transform:scaleX(0.85);transform-origin:0 0">LUNCHMEAT</span>
<span class="i" style="left:807.94px;top:953px;letter-spacing:3.106px;transform:scaleX(0.85);transform-origin:0 0">PREPARED FOODS</span>
<span class="i" style="left:807.36px;top:1099px;letter-spacing:3.548px;transform:scaleX(0.85);transform-origin:0 0">CHICKEN NUGGETS</span>
<span class="i" style="left:806.84px;top:1136px;letter-spacing:3.269px;transform:scaleX(0.85);transform-origin:0 0">FISH</span>
<span class="i" style="left:806.84px;top:1174px;letter-spacing:3.581px;transform:scaleX(0.85);transform-origin:0 0">ICE-CREAM</span>
<span class="i" style="left:806.84px;top:1211px;letter-spacing:5.400px;transform:scaleX(0.85);transform-origin:0 0">PIZZA</span>
<span class="i" style="left:808.16px;top:1249px;letter-spacing:2.745px;transform:scaleX(0.85);transform-origin:0 0">WAFFLES</span>
<span class="i" style="left:806.68px;top:1399px;letter-spacing:2.578px;transform:scaleX(0.85);transform-origin:0 0">APPLES</span>
<span class="i" style="left:805.84px;top:1435px;letter-spacing:4.424px;transform:scaleX(0.85);transform-origin:0 0">BANANAS</span>
<span class="i" style="left:805.84px;top:1473px;letter-spacing:2.045px;transform:scaleX(0.85);transform-origin:0 0">BLUEBERRIES</span>
<span class="i" style="left:806.36px;top:1511px;letter-spacing:3.065px;transform:scaleX(0.85);transform-origin:0 0">GRAPES</span>
<span class="i" style="left:805.84px;top:1549px;letter-spacing:5.863px;transform:scaleX(0.85);transform-origin:0 0">KIWI</span>
<span class="i" style="left:806.36px;top:1586px;letter-spacing:3.905px;transform:scaleX(0.85);transform-origin:0 0">ORANGES</span>
<span class="i" style="left:806.60px;top:1624px;letter-spacing:2.939px;transform:scaleX(0.85);transform-origin:0 0">STRAWBERRIES</span>
<span class="i" style="left:819.41px;top:1766px;letter-spacing:3.178px;transform:scaleX(0.85);transform-origin:0 0">CRACKERS</span>
<span class="i" style="left:818.89px;top:1803px;letter-spacing:3.748px;transform:scaleX(0.85);transform-origin:0 0">NOODLES</span>
<span class="i" style="left:818.89px;top:1841px;letter-spacing:3.697px;transform:scaleX(0.85);transform-origin:0 0">PASTA</span>
<span class="i" style="left:818.89px;top:1878px;letter-spacing:2.739px;transform:scaleX(0.85);transform-origin:0 0">RICE</span>
<span class="i" style="left:1144.04px;top:203px;letter-spacing:3.593px;transform:scaleX(0.85);transform-origin:0 0">FORMULA</span>
<span class="i" style="left:1144.04px;top:241px;letter-spacing:3.587px;transform:scaleX(0.85);transform-origin:0 0">BABY FOOD</span>
<span class="i" style="left:1144.04px;top:278px;letter-spacing:2.880px;transform:scaleX(0.85);transform-origin:0 0">DIAPERS</span>
<span class="i" style="left:1145.36px;top:316px;letter-spacing:3.145px;transform:scaleX(0.85);transform-origin:0 0">WIPES</span>
<span class="i" style="left:1141.19px;top:433px;letter-spacing:4.567px;transform:scaleX(0.85);transform-origin:0 0">BACON</span>
<span class="i" style="left:1141.71px;top:470px;letter-spacing:3.759px;transform:scaleX(0.85);transform-origin:0 0">CHICKEN</span>
<span class="i" style="left:1141.19px;top:507px;letter-spacing:3.288px;transform:scaleX(0.85);transform-origin:0 0">FISH</span>
<span class="i" style="left:1141.71px;top:545px;letter-spacing:3.088px;transform:scaleX(0.85);transform-origin:0 0">GROUND BEEF</span>
<span class="i" style="left:1141.19px;top:582px;letter-spacing:5.756px;transform:scaleX(0.85);transform-origin:0 0">HAM</span>
<span class="i" style="left:1141.19px;top:619px;letter-spacing:3.257px;transform:scaleX(0.85);transform-origin:0 0">HAMBURGERS</span>
<span class="i" style="left:1141.19px;top:657px;letter-spacing:4.109px;transform:scaleX(0.85);transform-origin:0 0">HOT DOGS</span>
<span class="i" style="left:1141.19px;top:695px;letter-spacing:3.944px;transform:scaleX(0.85);transform-origin:0 0">PORK</span>
<span class="i" style="left:1142.31px;top:732px;letter-spacing:2.885px;transform:scaleX(0.85);transform-origin:0 0">TURKEY</span>
<span class="i" style="left:1144.04px;top:836px;letter-spacing:3.127px;transform:scaleX(0.85);transform-origin:0 0">BAGGIES</span>
<span class="i" style="left:1144.04px;top:874px;letter-spacing:2.945px;transform:scaleX(0.85);transform-origin:0 0">FOIL</span>
<span class="i" style="left:1144.04px;top:912px;letter-spacing:2.786px;transform:scaleX(0.85);transform-origin:0 0">KLEENEX</span>
<span class="i" style="left:1144.04px;top:948px;letter-spacing:4.330px;transform:scaleX(0.85);transform-origin:0 0">NAPKINS</span>
<span class="i" style="left:1144.04px;top:986px;letter-spacing:3.241px;transform:scaleX(0.85);transform-origin:0 0">PAPER TOWELS</span>
<span class="i" style="left:1144.04px;top:1023px;letter-spacing:3.649px;transform:scaleX(0.85);transform-origin:0 0">PLASTIC WRAP</span>
<span class="i" style="left:1145.16px;top:1061px;letter-spacing:2.695px;transform:scaleX(0.85);transform-origin:0 0">TOILET PAPER</span>
<span class="i" style="left:1141.66px;top:1170px;letter-spacing:3.263px;transform:scaleX(0.85);transform-origin:0 0">CAT</span>
<span class="i" style="left:1206.34px;top:1170px;letter-spacing:4.275px;transform:scaleX(0.85);transform-origin:0 0">DOG FOOD</span>
<span class="i" style="left:1141.14px;top:1208px;letter-spacing:2.115px;transform:scaleX(0.85);transform-origin:0 0">LITTER</span>
<span class="i" style="left:1141.19px;top:1325px;letter-spacing:3.655px;transform:scaleX(0.85);transform-origin:0 0">FEMININE PROD.</span>
<span class="i" style="left:1141.19px;top:1362px;letter-spacing:3.150px;transform:scaleX(0.85);transform-origin:0 0">DENTAL FLOSS</span>
<span class="i" style="left:1142.31px;top:1400px;letter-spacing:3.218px;transform:scaleX(0.85);transform-origin:0 0">TOOTHPASTE</span>
<span class="i" style="left:1141.19px;top:1437px;letter-spacing:4.625px;transform:scaleX(0.85);transform-origin:0 0">MOUTHWASH</span>
<span class="i" style="left:1141.95px;top:1474px;letter-spacing:4.403px;transform:scaleX(0.85);transform-origin:0 0">SHAMPOO</span>
<span class="i" style="left:1141.95px;top:1512px;letter-spacing:3.960px;transform:scaleX(0.85);transform-origin:0 0">SOAP</span>
<span class="i" style="left:1141.66px;top:1611px;letter-spacing:3.502px;transform:scaleX(0.85);transform-origin:0 0">CARROTS</span>
<span class="i" style="left:1141.66px;top:1648px;letter-spacing:2.074px;transform:scaleX(0.85);transform-origin:0 0">CELERY</span>
<span class="i" style="left:1141.66px;top:1686px;letter-spacing:2.985px;transform:scaleX(0.85);transform-origin:0 0">CUCUMBER</span>
<span class="i" style="left:1141.14px;top:1723px;letter-spacing:2.170px;transform:scaleX(0.85);transform-origin:0 0">LETTUCE</span>
<span class="i" style="left:1141.66px;top:1761px;letter-spacing:5.575px;transform:scaleX(0.85);transform-origin:0 0">ONION</span>
<span class="i" style="left:1142.26px;top:1798px;letter-spacing:4.281px;transform:scaleX(0.85);transform-origin:0 0">TOMATO</span>
<span class="i" style="left:1141.90px;top:1836px;letter-spacing:3.929px;transform:scaleX(0.85);transform-origin:0 0">SPINACH SQUASH</span>
<span class="h" style="left:1099.54px;top:980px;letter-spacing:0.000px;transform:scaleX(0.85);transform-origin:0 0">Y</span>
</div>
<svg id="s" width="1545" height="2000" viewBox="0 0 1545 2000" style="position:absolute;left:0;top:0">
<polygon points="648.0,1741.4 651.8,1741.4 659.2,1721.4 655.4,1721.4" fill="#fff"/>
<polygon points="1239.5,409.4 1243.3,409.4 1249.7,389.4 1245.9,389.4" fill="#fff"/>
<polygon points="1251.2,818.4 1255.0,818.4 1261.5,798.4 1257.7,798.4" fill="#fff"/>
<polygon points="207.3,938.4 211.1,938.4 217.6,918.4 213.8,918.4" fill="#04374f"/>
<polygon points="1192.5,1191.4 1196.3,1191.4 1202.7,1171.4 1198.9,1171.4" fill="#04374f"/>
</svg></body></html>
